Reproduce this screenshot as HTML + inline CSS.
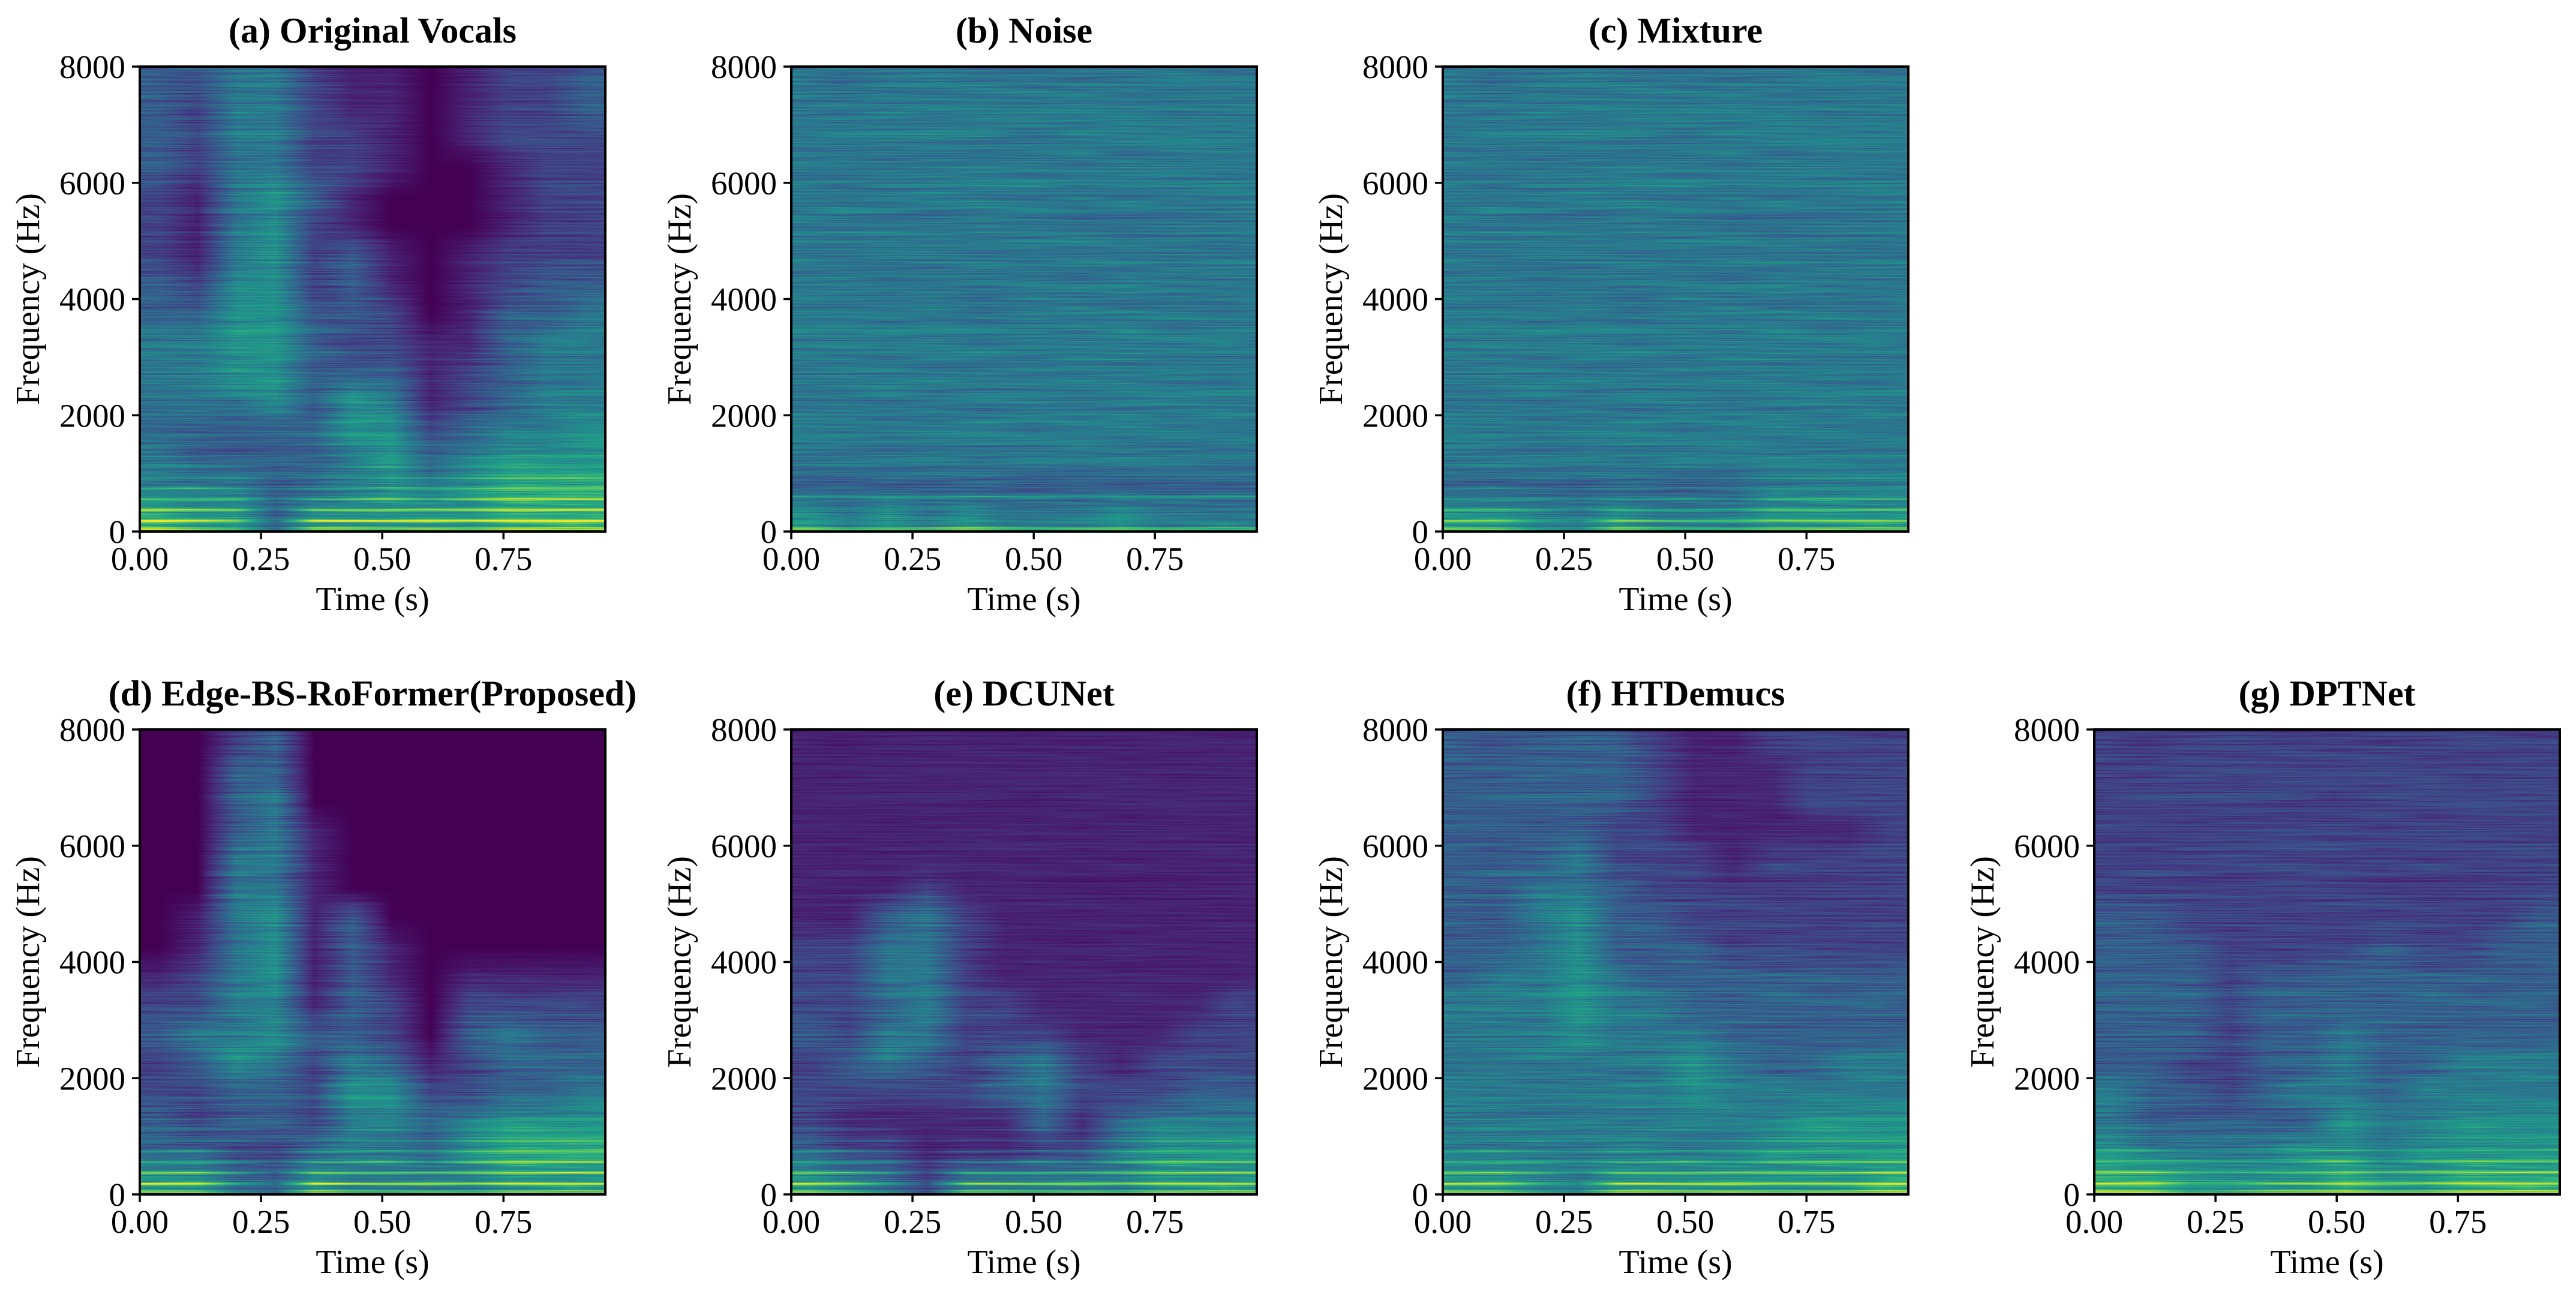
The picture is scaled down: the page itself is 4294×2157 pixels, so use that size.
<!DOCTYPE html>
<html><head><meta charset="utf-8">
<style>
html,body{margin:0;padding:0;background:#fff;}
#root{position:relative;width:4294px;height:2157px;overflow:hidden;background:#fff;}
canvas{position:absolute;}
svg{position:absolute;left:0;top:0;}
text{font-family:"Liberation Serif","Times New Roman",serif;fill:#000;}
</style></head>
<body>
<div id="root">
<svg id="ov" width="4294" height="2157"></svg>
</div>
<script>
// ---- data ----
const titles = ["(a) Original Vocals","(b) Noise","(c) Mixture","(d) Edge-BS-RoFormer(Proposed)","(e) DCUNet","(f) HTDemucs","(g) DPTNet"];
const xTicks = [0, 0.25, 0.5, 0.75];
const xTickLabels = ["0.00","0.25","0.50","0.75"];
const yTicks = [0, 2000, 4000, 6000, 8000];
const yTickLabels = ["0","2000","4000","6000","8000"];
const tMax = 0.96, fMax = 8000;
// energy grids: rows 7750Hz -> 250Hz (500Hz bands), cols t = 0.04..0.92 (0.08s steps), value 0-9
const gridA = ["334421101223","324421101223","324422101222","324422100122","214531000122","214521000122","214523101222","325523101233","335533201334","445532211344","445533312344","444535412344","333335523445","433334534555","444334545666","655355555666"];
const gridB = ["444444444444","444444444444","444444444444","444444444444","444444444444","444444444444","444444444444","444444444444","444444444444","444444444444","444444444444","444444444444","444444444444","444444444444","333333333333","545454445444"];
const gridC = ["444444444444","444444444444","444444444444","444444444444","444444444444","444444444444","444444444444","444444444444","444444444444","444444444444","444444444444","444444444444","444444444444","444444444444","333333334444","554454445555"];
const gridD = ["002300000000","003300000000","003400000000","003410000000","004410000000","004410000000","014513000000","014513100000","124513101111","224413202222","344533203433","235424312333","223325522334","323324434555","332234435666","553354444555"];
const gridE = ["111111111111","111111111111","111111111111","111111111111","111111111111","111211111111","113421111111","224421111111","224421111111","223422111112","324422211122","234323421222","222223422233","211111313444","322111224555","543244444555"];
const gridF = ["333332112222","333332111222","333332111222","333322111112","333422212222","334432222222","334533222222","334533322222","344543333333","444544333333","444544433333","444444543344","444444544444","444444444555","444444445555","554455555556"];
const gridG = ["222222222222","222222222222","222222222222","222222222222","222222222222","222222222222","332222222223","333222232233","333233333333","333233333333","333233433333","332233433444","433234434444","433333544555","544445545555","665555655666"];
const grids = [gridA,gridB,gridC,gridD,gridE,gridF,gridG];
// harmonic fundamental (Hz), count, strength, time gates per column
const harmF0 = [185, 600, 185, 185, 185, 185, 190];
const harmCount = [9, 1, 8, 9, 8, 8, 4];
const harmStrength = [0.5, 0.2, 0.35, 0.5, 0.45, 0.42, 0.35];
const gateA = [1,1,0.8,0.1,1,1,1,1,1,1,1,1];
const gateB = [1,1,1,1,1,1,1,1,1,1,1,1];
const gateC = [0.9,0.9,0.7,0.2,0.9,0.9,0.9,0.8,1,1,1,1];
const gateD = [1,1,0.8,0.1,1,1,1,1,1,1,1,1];
const gateE = [1,1,0.8,0.1,1,1,1,1,1,1,1,1];
const gateF = [1,1,0.8,0.2,1,1,1,1,1,1,1,1];
const gateG = [1,1,0.6,0.4,0.8,1,1,0.8,1,1,1,1];
const gates = [gateA,gateB,gateC,gateD,gateE,gateF,gateG];

// ---- layout ----
const colX = [233,1319,2405,3491], rowY = [111,1216];
const W = 776, H = 775;
const panelPos = [[0,0],[1,0],[2,0],[0,1],[1,1],[2,1],[3,1]];
const vir = [[68,1,84],[72,36,117],[65,68,135],[53,95,141],[42,120,142],[33,145,140],[34,168,132],[68,191,112],[122,209,81],[189,223,38],[253,231,37]];
function cmap(v){v=Math.max(0,Math.min(1,v))*10;const i=Math.min(9,Math.floor(v)),f=v-i;const a=vir[i],b=vir[i+1];return [a[0]+(b[0]-a[0])*f,a[1]+(b[1]-a[1])*f,a[2]+(b[2]-a[2])*f];}
function hash(a,b){let h=(a*374761393+b*668265263)|0;h=(h^(h>>>13))*1274126177|0;return ((h^(h>>>16))>>>0)/4294967296;}
const root=document.getElementById('root');
const svg=document.getElementById('ov');
const NS='http://www.w3.org/2000/svg';
function sx(p,t){return colX[panelPos[p][0]]+t/tMax*W;}
function sy(p,f){return rowY[panelPos[p][1]]+H-f/fMax*H;}
function add(tag,attrs,txt){const e=document.createElementNS(NS,tag);for(const k in attrs)e.setAttribute(k,attrs[k]);if(txt!==undefined)e.textContent=txt;svg.appendChild(e);return e;}

for(let p=0;p<7;p++){
  const g=grids[p].map(r=>r.split('').map(Number));
  const gate=gates[p];
  const x0=colX[panelPos[p][0]], y0=rowY[panelPos[p][1]];
  const cv=document.createElement('canvas');
  cv.width=W;cv.height=H;cv.style.left=x0+'px';cv.style.top=y0+'px';
  
  
  root.insertBefore(cv,svg);
  const ctx=cv.getContext('2d');const img=ctx.createImageData(W,H);const d=img.data;
  const nr=g.length,nc=g[0].length;
  for(let y=0;y<H;y++){
    const f=(1-(y+0.5)/H)*fMax;
    let rr=(fMax-f)/500-0.5;rr=Math.max(0,Math.min(nr-1,rr));const r0=Math.floor(rr),r1=Math.min(nr-1,r0+1),fr=rr-r0;
    for(let x=0;x<W;x++){
      const t=(x+0.5)/W*tMax;
      let cc=t/0.08-0.5;cc=Math.max(0,Math.min(nc-1,cc));const c0=Math.floor(cc),c1=Math.min(nc-1,c0+1),fc=cc-c0;
      let v=(g[r0][c0]*(1-fc)+g[r0][c1]*fc)*(1-fr)+(g[r1][c0]*(1-fc)+g[r1][c1]*fc)*fr;
      v/=10;
      const gt=gate[c0]*(1-fc)+gate[c1]*fc;
      let h=0;
      for(let k=1;k<=harmCount[p];k++){const fk=harmF0[p]*k;const dd=(f-fk)/22;if(Math.abs(dd)<4)h+=harmStrength[p]*Math.exp(-dd*dd)*Math.exp(-(k-1)*0.28);}
      v+=h*gt;
      if(f<70) v+=0.25*gt;
      const seg=Math.floor(x/80),sf=x/80-seg;
      const n=(hash(y,seg)*(1-sf)+hash(y,seg+1)*sf)-0.5;
      const n2=hash(y*7+3,0)-0.5;
      v+=(n*0.26+n2*0.1)*Math.min(1,v*4);
      const c=cmap(v);const i=(y*W+x)*4;d[i]=c[0];d[i+1]=c[1];d[i+2]=c[2];d[i+3]=255;
    }
  }
  ctx.putImageData(img,0,0);

  const fr_=add('rect',{x:x0,y:y0,width:W,height:H,fill:'none',stroke:'#000','stroke-width':4});
  
  
  const ti=add('text',{x:x0+W/2,y:y0-40,'text-anchor':'middle','font-size':60,'font-weight':'bold'},titles[p]);
  
  
  for(let i=0;i<xTicks.length;i++){
    const X=sx(p,xTicks[i]);
    const tk=add('line',{x1:X,x2:X,y1:y0+H,y2:y0+H+13,stroke:'#000','stroke-width':3.5});
    
    
    const tl=add('text',{x:X,y:y0+H+64,'text-anchor':'middle','font-size':55},xTickLabels[i]);
    
    
  }
  for(let i=0;i<yTicks.length;i++){
    const Y=sy(p,yTicks[i]);
    const tk=add('line',{x1:x0-13,x2:x0,y1:Y,y2:Y,stroke:'#000','stroke-width':3.5});
    
    
    const tl=add('text',{x:x0-24,y:Y+19,'text-anchor':'end','font-size':55},yTickLabels[i]);
    
    
  }
  const xl=add('text',{x:x0+W/2,y:y0+H+131,'text-anchor':'middle','font-size':56},'Time (s)');
  
  
  const yx=x0-168, yy=y0+H/2;
  const yl=add('text',{x:yx,y:yy,'text-anchor':'middle','font-size':56,transform:'rotate(-90 '+yx+' '+yy+')'},'Frequency (Hz)');
  
  
}
</script>
</body></html>
